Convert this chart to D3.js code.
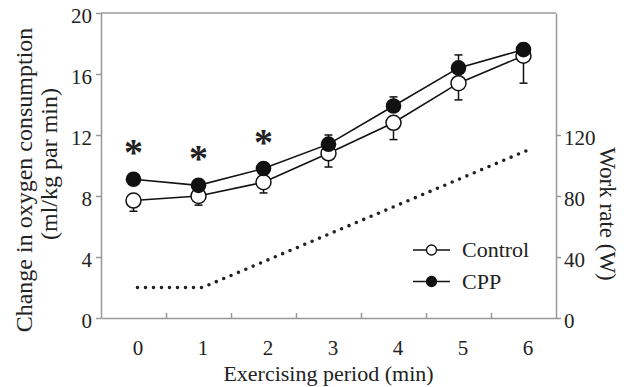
<!DOCTYPE html>
<html>
<head>
<meta charset="utf-8">
<script src="https://cdn.jsdelivr.net/npm/d3@7/dist/d3.min.js"></script>
<style>
  body { margin: 0; background: #fff; }
  svg text { font-family: "Times New Roman", "Liberation Serif", Times, "DejaVu Serif", serif; fill: #222; }
  .axis path, .axis line { stroke: #999; stroke-width: 1.5; }
</style>
</head>
<body>
<script>
// data
var minutes = [0, 1, 2, 3, 4, 5, 6];
var control = [7.7, 8.0, 8.9, 10.8, 12.8, 15.4, 17.2];
var controlErr = [0.7, 0.6, 0.7, 0.9, 1.1, 1.1, 1.8];
var cpp = [9.1, 8.7, 9.8, 11.4, 13.9, 16.4, 17.6];
var cppErr = [0.2, 0.2, 0.2, 0.6, 0.6, 0.85, 0.4];
var workRate = [20, 20, 38, 56, 74, 92, 110];
var starred = [0, 1, 2];
var leftTicks = [0, 4, 8, 12, 16, 20];
var rightTicks = [0, 40, 80, 120];

var width = 624, height = 387;
var pLeft = 101, pRight = 556, pTop = 13, pBottom = 318;

var svg = d3.select("body").append("svg")
    .attr("width", width)
    .attr("height", height);

var x = d3.scaleLinear().domain([-0.5, 6.5]).range([pLeft, pRight]);
var y = d3.scaleLinear().domain([0, 20]).range([pBottom, pTop]);
var yW = d3.scaleLinear().domain([0, 200]).range([pBottom, pTop]);

// frame top line
svg.append("line")
    .attr("x1", pLeft).attr("x2", pRight)
    .attr("y1", pTop).attr("y2", pTop)
    .style("stroke", "#999").style("stroke-width", 1.5);

// left axis
svg.append("g").attr("class", "axis")
    .attr("transform", "translate(" + pLeft + ",0)")
    .call(d3.axisLeft(y).tickValues(leftTicks).tickSize(5).tickSizeOuter(0).tickPadding(4))
    .selectAll("text").attr("dy", "0.45em").style("font-size", "21px");

// right axis
svg.append("g").attr("class", "axis")
    .attr("transform", "translate(" + pRight + ",0)")
    .call(d3.axisRight(yW).tickValues(rightTicks).tickSize(5).tickSizeOuter(0).tickPadding(3))
    .selectAll("text").attr("dy", "0.45em").style("font-size", "21px");

// bottom axis: ticks between periods, pointing in
svg.append("g").attr("class", "axis")
    .attr("transform", "translate(0," + pBottom + ")")
    .call(d3.axisBottom(x).tickValues([0.5, 1.5, 2.5, 3.5, 4.5, 5.5]).tickSize(-5).tickSizeOuter(0).tickFormat(""));

// bottom labels
var xl = svg.append("g").attr("class", "axis")
    .attr("transform", "translate(4," + pBottom + ")")
    .call(d3.axisBottom(x).tickValues(minutes).tickSize(0).tickPadding(22).tickFormat(d3.format("d")));
xl.select(".domain").remove();
xl.selectAll("text").style("font-size", "21px");

// axis titles
svg.append("text")
    .attr("x", 328.5).attr("y", 381)
    .attr("text-anchor", "middle")
    .style("font-size", "22px")
    .text("Exercising period (min)");

svg.append("text")
    .attr("transform", "translate(32,180) rotate(-90)")
    .attr("text-anchor", "middle")
    .style("font-size", "24px")
    .text("Change in oxygen consumption");

svg.append("text")
    .attr("transform", "translate(57,164) rotate(-90)")
    .attr("text-anchor", "middle")
    .style("font-size", "24px")
    .text("(ml/kg par min)");

svg.append("text")
    .attr("transform", "translate(600,214) rotate(90)")
    .attr("text-anchor", "middle")
    .style("font-size", "23px")
    .text("Work rate (W)");

// work rate (dotted)
var wLine = d3.line()
    .x(function(d, i) { return x(minutes[i]) + 4; })
    .y(function(d) { return yW(d); });

svg.append("path")
    .datum(workRate)
    .attr("d", wLine)
    .attr("fill", "none")
    .style("stroke", "#222")
    .style("stroke-width", 3.6)
    .style("stroke-linecap", "round")
    .style("stroke-dasharray", "0,8");

var line = d3.line()
    .x(function(d, i) { return x(minutes[i]); })
    .y(function(d) { return y(d); });

svg.append("path").datum(control).attr("d", line)
    .attr("fill", "none").style("stroke", "#111").style("stroke-width", 1.6);
svg.append("path").datum(cpp).attr("d", line)
    .attr("fill", "none").style("stroke", "#111").style("stroke-width", 1.6);

// error bars: control goes down, cpp goes up
function errBars(vals, errs, dir) {
    var g = svg.append("g");
    g.selectAll("line.v").data(vals).enter().append("line")
        .attr("x1", function(d, i) { return x(minutes[i]); })
        .attr("x2", function(d, i) { return x(minutes[i]); })
        .attr("y1", function(d) { return y(d); })
        .attr("y2", function(d, i) { return y(d + dir * errs[i]); })
        .style("stroke", "#111").style("stroke-width", 1.5);
    g.selectAll("line.c").data(vals).enter().append("line")
        .attr("x1", function(d, i) { return x(minutes[i]) - 4; })
        .attr("x2", function(d, i) { return x(minutes[i]) + 4; })
        .attr("y1", function(d, i) { return y(d + dir * errs[i]); })
        .attr("y2", function(d, i) { return y(d + dir * errs[i]); })
        .style("stroke", "#111").style("stroke-width", 1.5);
}
errBars(control, controlErr, -1);
errBars(cpp, cppErr, 1);

svg.selectAll(".ctl").data(control).enter().append("circle")
    .attr("cx", function(d, i) { return x(minutes[i]); })
    .attr("cy", function(d) { return y(d); })
    .attr("r", 7.5)
    .attr("fill", "#fff")
    .style("stroke", "#111").style("stroke-width", 1.5);

svg.selectAll(".cpp").data(cpp).enter().append("circle")
    .attr("cx", function(d, i) { return x(minutes[i]); })
    .attr("cy", function(d) { return y(d); })
    .attr("r", 7.8)
    .attr("fill", "#111");

// significance marks
svg.selectAll(".star").data(starred).enter().append("text")
    .attr("x", function(d) { return x(minutes[d]); })
    .attr("y", function(d) { return y(cpp[d]) - 33 + 19; })
    .attr("text-anchor", "middle")
    .style("font-size", "38px")
    .style("font-weight", "bold")
    .text("*");

// legend
var legend = [{name: "Control", fill: "#fff"}, {name: "CPP", fill: "#111"}];
var lg = svg.selectAll(".leg").data(legend).enter().append("g")
    .attr("transform", function(d, i) { return "translate(413," + (250 + i * 31.5) + ")"; });
lg.append("line").attr("x1", 0).attr("x2", 37)
    .style("stroke", "#111").style("stroke-width", 1.5);
lg.append("circle").attr("cx", 18.5).attr("r", 5)
    .attr("fill", function(d) { return d.fill; })
    .style("stroke", "#111").style("stroke-width", 1.3);
lg.append("text").attr("x", 49).attr("y", 7)
    .style("font-size", "22px")
    .text(function(d) { return d.name; });
</script>
</body>
</html>
